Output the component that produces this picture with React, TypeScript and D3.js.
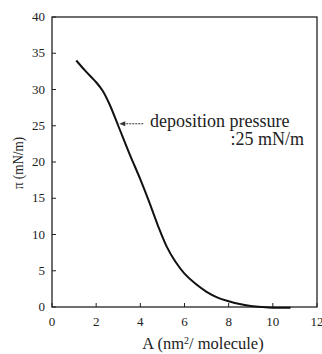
import React, { useEffect, useRef } from 'react';
import * as d3 from 'd3';

// isotherm
const areaValues = [1.1, 1.5, 2.0, 2.3, 2.6, 3.0, 3.5, 4.0, 4.4, 4.8, 5.2, 5.6, 6.0, 6.5, 7.0, 7.5, 8.0, 8.5, 9.0, 9.5, 10.0, 10.8];
const pressureValues = [34, 32.6, 31, 29.8, 28, 25, 21.2, 17.6, 14.5, 11.2, 8.3, 6.2, 4.6, 3.2, 2.1, 1.3, 0.8, 0.4, 0.15, 0, -0.1, -0.1];
const xTicks = [0, 2, 4, 6, 8, 10, 12];
const yTicks = [0, 5, 10, 15, 20, 25, 30, 35, 40];
const depositionPressure = 25;

const App = () => {
  const svgRef = useRef<SVGSVGElement>(null);

  useEffect(() => {
    const width = 322;
    const height = 354;
    const left = 52, right = 317, top = 17, bottom = 307;
    const font = '"Liberation Serif", "Times New Roman", Times, serif';

    const svg = d3.select(svgRef.current)
      .attr('width', width)
      .attr('height', height);
    svg.selectAll('*').remove();

    const x = d3.scaleLinear().domain([0, 12]).range([left, right]);
    const y = d3.scaleLinear().domain([0, 40]).range([bottom, top]);

    svg.append('rect')
      .attr('width', width).attr('height', height).attr('fill', '#fff');

    svg.append('rect')
      .attr('x', left).attr('y', top)
      .attr('width', right - left).attr('height', bottom - top)
      .attr('fill', 'none').attr('stroke', '#222').attr('stroke-width', 1.3);

    const g = svg.append('g');
    g.selectAll('.yt').data(yTicks).enter().append('line')
      .attr('x1', left).attr('x2', left + 4)
      .attr('y1', d => y(d)).attr('y2', d => y(d))
      .attr('stroke', '#222');
    g.selectAll('.xt').data(xTicks).enter().append('line')
      .attr('x1', d => x(d)).attr('x2', d => x(d))
      .attr('y1', bottom).attr('y2', bottom - 4)
      .attr('stroke', '#222');

    g.selectAll('.yl').data(yTicks).enter().append('text')
      .attr('x', left - 7).attr('y', d => y(d) + 4)
      .attr('text-anchor', 'end')
      .style('font-family', font).style('font-size', '13px').style('fill', '#222')
      .text(d => d);
    g.selectAll('.xl').data(xTicks).enter().append('text')
      .attr('x', d => x(d)).attr('y', bottom + 19)
      .attr('text-anchor', 'middle')
      .style('font-family', font).style('font-size', '13px').style('fill', '#222')
      .text(d => d);

    svg.append('text')
      .attr('transform', 'translate(23,163) rotate(-90)')
      .attr('text-anchor', 'middle')
      .attr('textLength', 52)
      .attr('lengthAdjust', 'spacingAndGlyphs')
      .style('font-family', font).style('font-size', '15px').style('fill', '#222')
      .text('\u03c0 (mN/m)');

    const xt = svg.append('text')
      .attr('x', 203).attr('y', 349)
      .attr('text-anchor', 'middle')
      .style('font-family', font).style('font-size', '16.5px').style('fill', '#222');
    xt.append('tspan').text('A (nm');
    xt.append('tspan').attr('dy', -5).style('font-size', '10px').text('2');
    xt.append('tspan').attr('dy', 5).text('/ molecule)');

    const data = areaValues.map((a, i) => [a, pressureValues[i]] as [number, number]);
    const line = d3.line<[number, number]>()
      .x(d => x(d[0])).y(d => y(d[1]))
      .curve(d3.curveCatmullRom);
    svg.append('path')
      .attr('d', line(data))
      .attr('fill', 'none').attr('stroke', '#111').attr('stroke-width', 2);

    // annotation arrow
    const depArea = 3.0;
    const ay = y(depositionPressure) - 2;
    svg.append('line')
      .attr('x1', x(depArea) + 25).attr('x2', x(depArea) + 6)
      .attr('y1', ay).attr('y2', ay)
      .attr('stroke', '#333').attr('stroke-width', 1)
      .attr('stroke-dasharray', '2,1');
    svg.append('path')
      .attr('d', `M${x(depArea) + 1},${ay} l6,-2.5 l0,5 z`)
      .attr('fill', '#333');

    svg.append('text')
      .attr('x', 150).attr('y', ay + 3)
      .style('font-family', font).style('font-size', '18px').style('fill', '#222')
      .text('deposition pressure');
    svg.append('text')
      .attr('x', 304).attr('y', ay + 21)
      .attr('text-anchor', 'end')
      .style('font-family', font).style('font-size', '18px').style('fill', '#222')
      .text(':25 mN/m');
  }, []);

  return <svg ref={svgRef} style={{ position: 'absolute', left: 0, top: 0 }}></svg>;
};

export default App;
